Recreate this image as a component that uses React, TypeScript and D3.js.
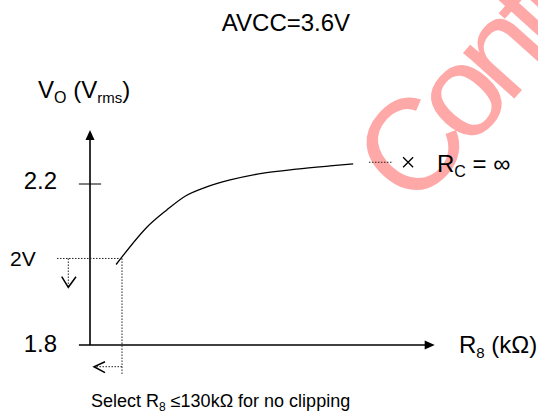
import * as d3 from "d3";
import * as React from "react";

// (R8 in kΩ, Vo in Vrms)
const curveR = [106, 230, 311, 393, 474, 569, 704, 839, 975, 1069];
const curveV = [2.0, 2.092, 2.135, 2.172, 2.193, 2.21, 2.227, 2.237, 2.245, 2.25];
const yTicks = [1.8, 2.2];
const yTickLabels = ["1.8", "2.2"];
const clipR = 130;
const clipV = 2.015;
const clipLabel = "2V";
const infR = 1292;
const infV = 2.254;
const infLead = [1133, 1231];

const width = 538;
const height = 415;
const font = "'Liberation Sans', Arial, sans-serif";

export default function App() {
  const x = d3.scaleLinear([0, 1400], [90, 434.7]);
  const y = d3.scaleLinear([1.8, 2.2], [345, 184]);
  const xStart = x(-45);
  const yTop = y(2.334);
  const x0 = x(0);
  const y0 = y(1.8);

  const pts = curveR.map((r, i) => [r, curveV[i]] as [number, number]);
  const line = d3
    .line<[number, number]>()
    .x((d) => x(d[0]))
    .y((d) => y(d[1]))
    .curve(d3.curveCatmullRom.alpha(0.5));

  const cx = x(clipR);
  const cy = y(clipV);
  const ix = x(infR);
  const iy = y(infV);
  const dot = { stroke: "#222", strokeWidth: 1, strokeDasharray: "1.5,1.5", fill: "none" };

  return (
    <svg
      width={width}
      height={height}
      style={{ position: "fixed", left: 0, top: 0, background: "#fff" }}
      fontFamily={font}
    >
      {/* watermark */}
      <text
        transform="translate(413,211) rotate(-48)"
        fontSize={130}
        letterSpacing={-12}
        fill="#ffa8a8"
      >
        Confidential
      </text>

      <text x={286} y={31} fontSize={24} textAnchor="middle">
        AVCC=3.6V
      </text>

      <text x={38} y={98} fontSize={24}>
        V<tspan fontSize={16} dy={5}>O</tspan>
        <tspan dy={-5} fontSize={24}> (V</tspan>
        <tspan fontSize={15} dy={5}>rms</tspan>
        <tspan dy={-5} fontSize={24}>)</tspan>
      </text>

      {/* axes */}
      <line x1={x0} x2={x0} y1={y0} y2={yTop + 8} stroke="#000" strokeWidth={1.6} />
      <path d={`M${x0},${yTop} L${x0 - 4.5},${yTop + 10} L${x0 + 4.5},${yTop + 10} Z`} fill="#000" />
      <line x1={xStart} x2={x(1400) - 8} y1={y0} y2={y0} stroke="#000" strokeWidth={1.6} />
      <path
        d={`M${x(1400)},${y0} L${x(1400) - 10},${y0 - 4.5} L${x(1400) - 10},${y0 + 4.5} Z`}
        fill="#000"
      />

      {yTicks.map((t, i) => (
        <g key={t}>
          {i > 0 && (
            <line x1={x(-45)} x2={x(45)} y1={y(t)} y2={y(t)} stroke="#000" strokeWidth={1} />
          )}
          <text x={57} y={y(t) + (i === 0 ? 7 : 5)} fontSize={24} textAnchor="end">
            {yTickLabels[i]}
          </text>
        </g>
      ))}

      <text x={459} y={353} fontSize={24}>
        R<tspan fontSize={15} dy={5}>8</tspan>
        <tspan dy={-5} fontSize={24}> (kΩ)</tspan>
      </text>

      {/* curve */}
      <path d={line(pts) ?? ""} fill="none" stroke="#000" strokeWidth={1.3} />

      {/* clipping guide */}
      <text x={10} y={266} fontSize={21}>
        {clipLabel}
      </text>
      <line x1={57} x2={cx} y1={cy} y2={cy} {...dot} />
      <line x1={cx} x2={cx} y1={cy} y2={375} {...dot} />
      <line x1={68.3} x2={68.3} y1={cy} y2={286} {...dot} />
      <path d="M61.7,276.7 L68.3,287.3 L76,276.7" fill="none" stroke="#000" strokeWidth={1.5} />
      <line x1={cx} x2={95} y1={366.7} y2={366.7} {...dot} />
      <path d="M105,361.7 L94,366.7 L105,372.7" fill="none" stroke="#000" strokeWidth={1.5} />

      {/* Rc = infinity */}
      <line x1={x(infLead[0])} x2={x(infLead[1])} y1={iy} y2={iy} {...dot} />
      <path
        d={`M${ix - 5},${iy - 5} L${ix + 5},${iy + 5} M${ix - 5},${iy + 5} L${ix + 5},${iy - 5}`}
        stroke="#000"
        strokeWidth={1.3}
      />
      <text x={437} y={172} fontSize={24}>
        R<tspan fontSize={16} dy={5}>C</tspan>
        <tspan dy={-5} fontSize={24}> = ∞</tspan>
      </text>

      <text x={91} y={407} fontSize={18}>
        Select R<tspan fontSize={12} dy={4}>8</tspan>
        <tspan dy={-4} fontSize={18}> ≤130kΩ for no clipping</tspan>
      </text>
    </svg>
  );
}
